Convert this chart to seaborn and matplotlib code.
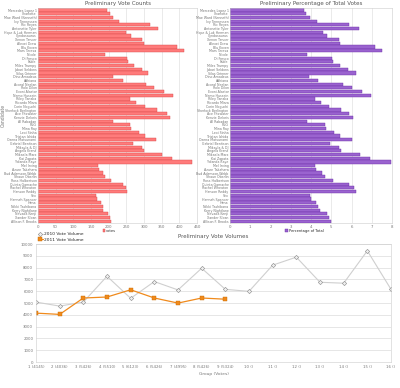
import matplotlib
matplotlib.use("Agg")
import matplotlib.pyplot as plt
import seaborn as sns
import numpy as np
import pandas as pd

# candidate names
candidates = [
    "Mercedes Lopez 1", "Charlotte", "Mae Ward (Kenneth)", "Ivy Tennessen", "Ric Reyes",
    "Antonette Tyler", "Hope & Luk Herman", "Cyndasaurus", "Xenon Tancer", "Alexei Drew",
    "Blu Koven", "Mars Teresa", "Nicole", "Di Fresco", "Fable",
    "Miles Trumpy", "Jabari Seldons", "Silas Grinner", "Dino Amadeus", "Adhiana",
    "Acoral Neelan", "Rolo Dilon", "Evoni Alastor", "Nemo Hussein", "Riley Tanaka",
    "Ricardo Mirza", "Corin Noguchi", "Sherlock Berlington", "Ace Fitzwater", "Kenzie Deloris",
    "Al Rabadan", "P&G", "Mina Ray", "Lexi Sinha", "Tristan Ishida",
    "Ozena Matsunami", "Gabriel Benitson", "Mikayla & DJ", "Angela Kranz", "Mikaela Marx",
    "Kai Zapata", "Yolanda Kaye", "Mel Irving", "Azure Takahara", "Bud Adamson-Webb",
    "Shaun Oberlin", "Ross Halbertson", "Quinta Gamache", "Rachel Wheaton", "Hanson Reddy",
    "Vex", "Hannah Spencer", "Hana", "Nikki Tashibana", "Kerry Nightlane",
    "Nevada Kenji", "Xander Sloan", "Allison F. Brooks",
]
votes = [
    195, 205, 211, 230, 316, 340, 250, 264, 294, 300,
    393, 412, 190, 252, 254, 273, 294, 312, 213, 240,
    307, 328, 357, 381, 259, 278, 303, 337, 364, 373,
    212, 260, 264, 286, 302, 335, 270, 294, 300, 350,
    379, 436, 171, 173, 183, 190, 206, 240, 250, 252,
    165, 168, 178, 183, 184, 199, 205, 206,
]
pct_total = [
    3.63, 3.75, 3.93, 4.28, 5.90, 6.35, 4.57, 4.80, 5.37, 5.45,
    7.17, 7.50, 3.78, 5.02, 5.08, 5.45, 5.83, 6.22, 3.90, 4.37,
    5.60, 6.00, 6.53, 6.98, 4.20, 4.47, 4.90, 5.47, 5.90, 6.05,
    3.80, 4.67, 4.75, 5.13, 5.43, 6.02, 4.92, 5.37, 5.47, 6.42,
    6.92, 7.97, 4.22, 4.25, 4.55, 4.67, 5.08, 5.90, 6.10, 6.22,
    3.93, 3.98, 4.25, 4.37, 4.42, 4.80, 4.88, 4.97,
]

# vote volumes per group
groups = list(range(1, 17))
group_labels = ["1 (4145)", "2 (4036)", "3 (5426)", "4 (5510)", "5 (6123)", "6 (5426)",
                "7 (4995)", "8 (5426)", "9 (5324)", "10 ()", "11 ()", "12 ()",
                "13 ()", "14 ()", "15 ()", "16 ()"]
vol_2010 = [5080, 4740, 5080, 7270, 5400, 6820, 6110, 7950, 6160, 5990,
            8210, 8890, 6760, 6680, 9430, 6160]
vol_2011 = [4145, 4036, 5426, 5510, 6123, 5426, 4995, 5426, 5324]

sns.set_style("whitegrid")
plt.rcParams['font.family'] = ['DejaVu Sans']

fig = plt.figure(figsize=(4, 3.88), dpi=100)
ax1 = fig.add_axes([0.095, 0.425, 0.3975, 0.554])
ax2 = fig.add_axes([0.575, 0.425, 0.405, 0.554])
ax3 = fig.add_axes([0.09, 0.067, 0.8875, 0.304])

grid_c = "#e2e2e2"
tick_c = "#777777"
title_c = "#555555"

df = pd.DataFrame({"Candidate": candidates, "votes": votes, "pct": pct_total})

# left: counts
sns.barplot(data=df, x="votes", y="Candidate", orient="h", ax=ax1,
            color="#ff7b7b", edgecolor="#d84848", linewidth=0.3, width=0.85,
            saturation=1, label="votes")
ax1.set_xlim(0, 450)
ax1.set_xticks(np.arange(0, 451, 50))
ax1.set_title("Preliminary Vote Counts", fontsize=4, color=title_c, pad=2)
ax1.set_ylabel("Candidate", fontsize=3.3, color=tick_c)
ax1.yaxis.set_label_coords(-0.205, 0.5)
ax1.set_xlabel("")
ax1.legend(loc="center", bbox_to_anchor=(0.45, -0.035), fontsize=2.6, frameon=False,
           handlelength=0.7, handleheight=0.7, handletextpad=0.3, borderpad=0)

# right: percentage
sns.barplot(data=df, x="pct", y="Candidate", orient="h", ax=ax2,
            color="#9a63cf", edgecolor="#6a2ea8", linewidth=0.3, width=0.85,
            saturation=1, label="Percentage of Total")
ax2.set_xlim(0, 8)
ax2.set_xticks(np.arange(0, 9, 1))
ax2.set_title("Preliminary Percentage of Total Votes", fontsize=4, color=title_c, pad=2)
ax2.set_ylabel("")
ax2.set_xlabel("")
ax2.legend(loc="center", bbox_to_anchor=(0.46, -0.035), fontsize=2.6, frameon=False,
           handlelength=0.7, handleheight=0.7, handletextpad=0.3, borderpad=0)

for ax in (ax1, ax2):
    ax.grid(axis="x", color=grid_c, linewidth=0.5)
    ax.grid(axis="y", visible=False)
    ax.tick_params(axis="y", labelsize=2.3, colors=tick_c, length=0, pad=1)
    ax.tick_params(axis="x", labelsize=2.8, colors=tick_c, length=0, pad=1.5)
    ax.set_ylim(len(candidates) - 0.5, -0.5)
    for s in ax.spines.values():
        s.set_color("#cccccc")
        s.set_linewidth(0.4)

# bottom: line chart
sns.lineplot(x=groups, y=vol_2010, ax=ax3, color="#cfcfcf", linewidth=0.8,
             marker="D", markersize=2.2, markerfacecolor="#eeeeee",
             markeredgecolor="#888888", markeredgewidth=0.4, label="2010 Vote Volume")
sns.lineplot(x=groups[:len(vol_2011)], y=vol_2011, ax=ax3, color="#f08a1c", linewidth=0.9,
             marker="s", markersize=2.2, markerfacecolor="#f08a1c",
             markeredgecolor="#c86a00", markeredgewidth=0.3, label="2011 Vote Volume")
ax3.set_xlim(1, 16)
ax3.set_ylim(0, 10000)
ax3.set_xticks(groups)
ax3.set_xticklabels(group_labels)
ax3.set_yticks(np.arange(0, 10001, 1000))
ax3.grid(axis="y", color=grid_c, linewidth=0.6)
ax3.grid(axis="x", visible=False)
ax3.tick_params(axis="both", labelsize=2.8, colors=tick_c, length=0, pad=2)
ax3.set_xlabel("Group (Votes)", fontsize=3.2, color=tick_c, labelpad=2)
ax3.set_title("Preliminary Vote Volumes", fontsize=4, color=title_c, pad=4)
for s in ax3.spines.values():
    s.set_color("#cccccc")
    s.set_linewidth(0.4)
ax3.legend(loc="lower left", bbox_to_anchor=(0.0, 1.0), fontsize=3.2, frameon=False,
           handlelength=1.0, handletextpad=0.4, borderpad=0, labelspacing=0.3)

fig.savefig("out.png", dpi=100)
